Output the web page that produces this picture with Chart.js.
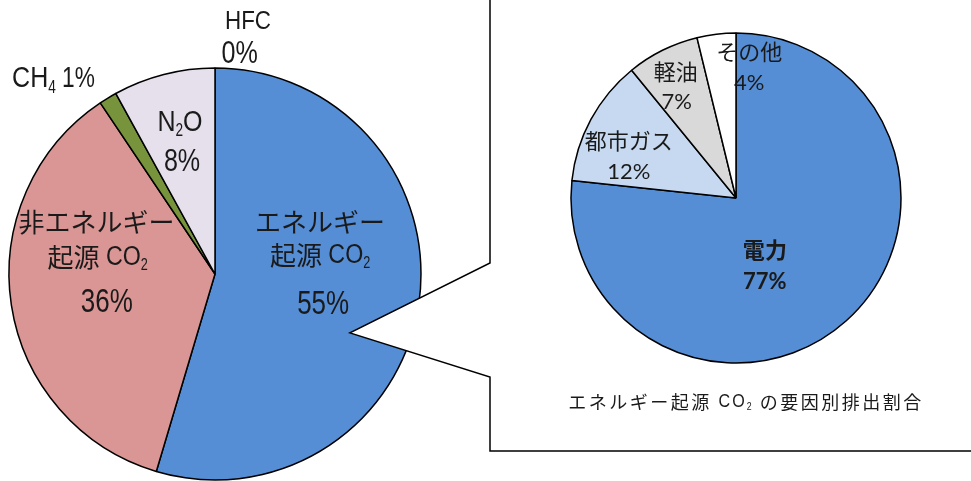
<!DOCTYPE html>
<html lang="ja">
<head>
<meta charset="utf-8">
<title>温室効果ガス排出割合</title>
<script src="https://cdn.jsdelivr.net/npm/chart.js@4.4.1/dist/chart.umd.min.js"></script>
<style>
  html, body { margin: 0; padding: 0; background: #fff; }
  #wrap { position: relative; width: 971px; height: 481px; overflow: hidden; }
  #gasChart { position: absolute; left: 0; top: 0; }
  #energyChart { position: absolute; left: 490px; top: 0; }
</style>
</head>
<body>
<div id="wrap">
  <canvas id="gasChart" width="971" height="481"></canvas>
  <canvas id="energyChart" width="481" height="481"></canvas>
</div>
<script>
// 温室効果ガス別の排出割合 (%)
const gasNames = ['エネルギー起源CO2', '非エネルギー起源CO2', 'CH4', 'N2O', 'HFC'];
const gasValues = [54.6, 36.0, 1.4, 8.0, 0.0];

// エネルギー起源CO2の要因別排出割合 (%)
const energyNames = ['電力', '都市ガス', '軽油', 'その他'];
const energyValues = [76.7, 12.4, 7.1, 3.8];

const chartTitle = 'エネルギー起源 CO_2 の要因別排出割合';

const gasColors = ['#558ed5', '#d99694', '#77933c', '#e6e0ec', '#ffffff'];
const energyColors = ['#558ed5', '#c6d9f1', '#d9d9d9', '#ffffff'];

// condensed look: latin runs are drawn squeezed horizontally
const NARROW = { cjk: '"Noto Sans CJK JP", sans-serif', latin: '"Liberation Sans", Arial, sans-serif', sx: 0.86, sxNum: 0.78, latinScale: 1.04 };
const PLAIN = { cjk: '"Noto Sans CJK JP", sans-serif', latin: 'Lato, "Noto Sans", sans-serif', sx: 1, sxNum: 1, latinScale: 1 };

// label layout: text lines, offset from pie centre in units of the radius
const gasLabels = [
  { lines: ['エネルギー', '起源 CO_2', '%'], pos: [[0.51, -0.25], [0.51, -0.09], [0.525, 0.15]], size: [26, 26, 32] },
  { lines: ['非エネルギー', '起源 CO_2', '%'], pos: [[-0.575, -0.25], [-0.57, -0.08], [-0.525, 0.14]], size: [26, 26, 32] },
  { lines: ['CH_4 %'], pos: [[-0.78, -0.945]], size: [28], align: 'left', x0: -0.985 },
  { lines: ['N_2O', '%'], pos: [[-0.17, -0.735], [-0.16, -0.545]], size: [28, 31] },
  { lines: ['HFC', '%'], pos: [[0.16, -1.225], [0.12, -1.065]], size: [25, 31] }
];

const energyLabels = [
  { lines: ['電力', '%'], pos: [[0.175, 0.315], [0.175, 0.51]], bold: true },
  { lines: ['都市ガス', '%'], pos: [[-0.65, -0.35], [-0.65, -0.16]] },
  { lines: ['軽油', '%'], pos: [[-0.365, -0.765], [-0.36, -0.58]] },
  { lines: ['その他', '%'], pos: [[0.08, -0.885], [0.08, -0.70]] }
];

// split "CO_2" into normal / subscript parts, then into CJK / latin runs
function parts(text) {
  const out = [];
  text.split(/_(\d)/).forEach((s, i) => {
    if (!s) return;
    const sub = i % 2 === 1;
    s.split(/([\u3000-\u9fff\uff00-\uffef]+)/).forEach(run => {
      if (!run) return;
      out.push({ t: run, sub: sub, cjk: /[\u3000-\u9fff\uff00-\uffef]/.test(run) });
    });
  });
  return out;
}

function drawRich(ctx, text, x, y, size, fam, weight, align) {
  const ps = parts(text);
  let w = 0;
  ps.forEach(p => {
    let sz = p.sub ? size * 0.6 : size;
    if (!p.cjk) sz *= fam.latinScale;
    p.font = weight + ' ' + sz.toFixed(1) + 'px ' + (p.cjk ? fam.cjk : fam.latin);
    p.sx = p.cjk ? 1 : (/^[\d%. ]+$/.test(p.t) ? fam.sxNum : fam.sx);
    ctx.font = p.font;
    p.w = ctx.measureText(p.t).width * p.sx;
    w += p.w;
  });
  let cx = align === 'left' ? x : x - w / 2;
  ps.forEach(p => {
    ctx.save();
    ctx.font = p.font;
    ctx.translate(cx, p.sub ? y + size * 0.3 : y);
    ctx.scale(p.sx, 1);
    ctx.fillText(p.t, 0, 0);
    ctx.restore();
    cx += p.w;
  });
}

function pctText(v) {
  return Math.round(v) + '%';
}

const calloutPlugin = {
  id: 'callout',
  afterDatasetsDraw(chart) {
    const arc = chart.getDatasetMeta(0).data[0];
    const r = arc.outerRadius;
    const ax = arc.x + 0.655 * r;
    const ay = arc.y + 0.286 * r;
    const bx = 490, top = 263, bottom = 377, base = 451;
    const ctx = chart.ctx;
    ctx.save();
    ctx.beginPath();
    ctx.moveTo(bx, -2);
    ctx.lineTo(bx, top);
    ctx.lineTo(ax, ay);
    ctx.lineTo(bx, bottom);
    ctx.lineTo(bx, base);
    ctx.lineTo(chart.width + 2, base);
    ctx.lineTo(chart.width + 2, -2);
    ctx.closePath();
    ctx.fillStyle = '#ffffff';
    ctx.fill();
    ctx.beginPath();
    ctx.moveTo(bx, -2);
    ctx.lineTo(bx, top);
    ctx.lineTo(ax, ay);
    ctx.lineTo(bx, bottom);
    ctx.lineTo(bx, base);
    ctx.lineTo(chart.width + 2, base);
    ctx.strokeStyle = '#000';
    ctx.lineWidth = 1.5;
    ctx.lineJoin = 'miter';
    ctx.stroke();
    ctx.restore();
  }
};

function labelPlugin(labels, values, fam, defSize) {
  return {
    id: 'sliceLabels',
    afterDraw(chart) {
      const arc = chart.getDatasetMeta(0).data[0];
      const r = arc.outerRadius;
      const ctx = chart.ctx;
      ctx.save();
      ctx.fillStyle = '#1a1a1a';
      ctx.textBaseline = 'middle';
      ctx.textAlign = 'left';
      labels.forEach((lab, i) => {
        lab.lines.forEach((line, j) => {
          const size = lab.size ? lab.size[j] : defSize;
          const weight = lab.bold ? 'bold' : 'normal';
          const text = line.replace('%', pctText(values[i]));
          const x = arc.x + (lab.align === 'left' ? lab.x0 : lab.pos[j][0]) * r;
          const y = arc.y + lab.pos[j][1] * r;
          drawRich(ctx, text, x, y, size, fam, weight, lab.align);
        });
      });
      ctx.restore();
    }
  };
}

const titlePlugin = {
  id: 'bottomTitle',
  afterDraw(chart) {
    const ctx = chart.ctx;
    ctx.save();
    ctx.fillStyle = '#1a1a1a';
    ctx.textBaseline = 'middle';
    ctx.textAlign = 'left';
    if ('letterSpacing' in ctx) ctx.letterSpacing = '2.5px';
    drawRich(ctx, chartTitle, 256, 402, 18, NARROW, 'normal', 'center');
    ctx.restore();
  }
};

new Chart(document.getElementById('gasChart'), {
  type: 'pie',
  data: {
    labels: gasNames,
    datasets: [{
      data: gasValues,
      backgroundColor: gasColors,
      borderColor: '#000',
      borderWidth: 1.5
    }]
  },
  options: {
    responsive: false,
    animation: false,
    radius: 206,
    layout: { padding: { left: 9, right: 550, top: 68, bottom: 1 } },
    plugins: { legend: { display: false }, tooltip: { enabled: false } }
  },
  plugins: [calloutPlugin, labelPlugin(gasLabels, gasValues, NARROW, 27)]
});

new Chart(document.getElementById('energyChart'), {
  type: 'pie',
  data: {
    labels: energyNames,
    datasets: [{
      data: energyValues,
      backgroundColor: energyColors,
      borderColor: '#000',
      borderWidth: 1.5
    }]
  },
  options: {
    responsive: false,
    animation: false,
    radius: 165,
    layout: { padding: { left: 81, right: 70, top: 33, bottom: 118 } },
    plugins: { legend: { display: false }, tooltip: { enabled: false } }
  },
  plugins: [labelPlugin(energyLabels, energyValues, PLAIN, 22), titlePlugin]
});
</script>
</body>
</html>
